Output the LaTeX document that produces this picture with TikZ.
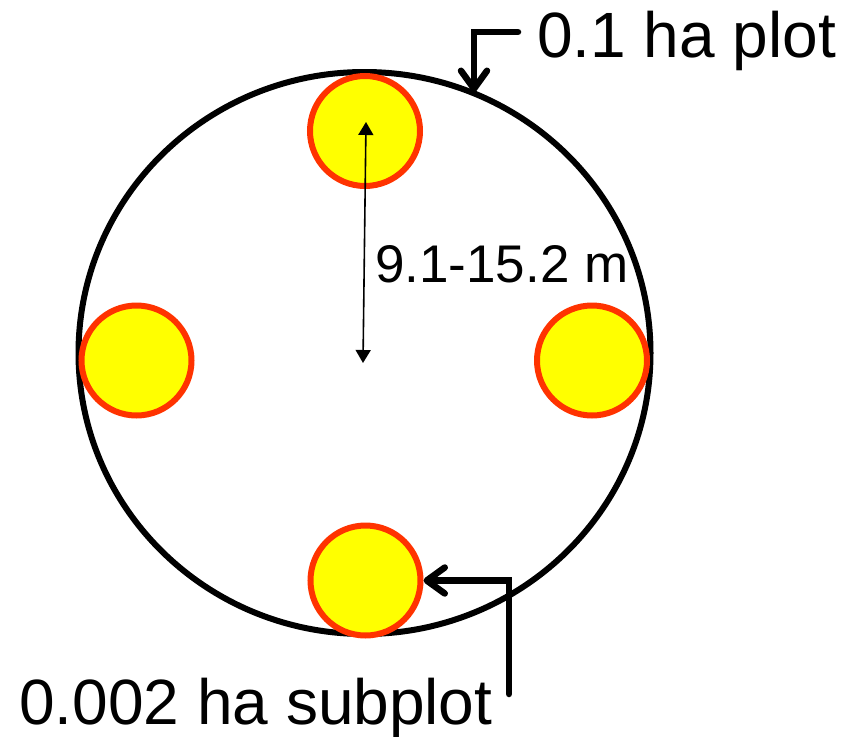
\documentclass[tikz,border=0pt]{standalone}
\usepackage{fontspec}
\setmainfont{Liberation Sans}
\usetikzlibrary{shapes.geometric,arrows.meta}
\definecolor{subfill}{HTML}{FFFF00}
\definecolor{subline}{HTML}{FF3300}
\begin{document}
\begin{tikzpicture}[x=1pt,y=-1pt,
  plotshape/.style={draw=black,line width=6pt,ellipse,inner sep=0pt,minimum width=572pt,minimum height=562pt},
  subplot/.style={draw=subline,fill=subfill,line width=6pt,circle,inner sep=0pt,minimum size=110pt},
  biglabel/.style={anchor=base west,inner sep=0pt,font=\fontsize{64}{70}\selectfont},
  midlabel/.style={anchor=base west,inner sep=0pt,font=\fontsize{53}{60}\selectfont},
  callout/.style={line width=6.5pt,line cap=round,line join=miter,-{Straight Barb[length=18pt,width=26pt,line cap=round,round]}},
  dim/.style={line width=1.6pt,{Triangle[length=13pt,width=15pt]}-{Triangle[length=13pt,width=15pt]}}]
\useasboundingbox (0,0) rectangle (863,737);
\node[plotshape] (plot) at (364.5,353) {};
\node[subplot] (sub1) at (365,131) {};
\node[subplot] (sub2) at (136.5,360.5) {};
\node[subplot] (sub3) at (592,360.5) {};
\node[subplot] (sub4) at (365.5,580.5) {};
\node[biglabel] (lplot) at (537,57) {0.1 ha plot};
\node[biglabel] (lsub) at (19,724) {0.002 ha subplot};
\node[midlabel] (ldist) at (375,282) {9.1-15.2 m};
\coordinate (c1) at (518,32);
\coordinate (tip1) at (474,92);
\coordinate (c2) at (509,694);
\coordinate (dtop) at (366,122);
\coordinate (dbot) at (363,363);
\draw[callout] (c1) -| (tip1);
\draw[callout] (c2) |- (sub4.east);
\draw[dim] (dbot) -- (dtop);
\end{tikzpicture}
\end{document}
